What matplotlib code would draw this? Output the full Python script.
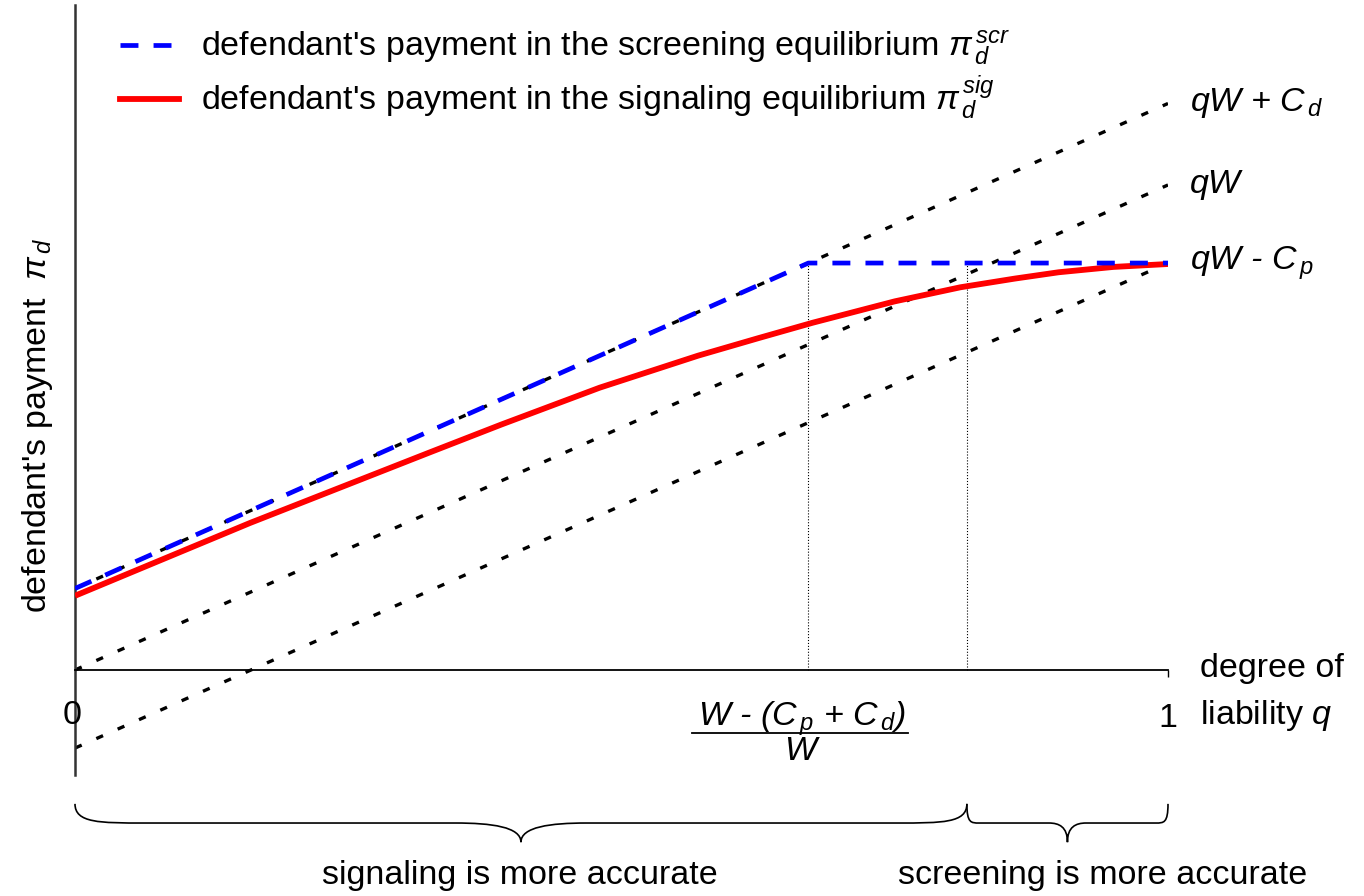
import matplotlib
matplotlib.use("Agg")
import matplotlib.pyplot as plt
from matplotlib.lines import Line2D
from matplotlib.path import Path
from matplotlib.patches import PathPatch

plt.rcParams["font.family"] = ["Liberation Sans", "DejaVu Sans"]
plt.rcParams["mathtext.fontset"] = "custom"
plt.rcParams["mathtext.rm"] = "Liberation Sans"
plt.rcParams["mathtext.it"] = "Liberation Sans:italic"
plt.rcParams["mathtext.bf"] = "Liberation Sans:bold"

# degree of liability q, payments in units of W
bound_q = [0.0, 1.0]
upper_bound = [0.168, 1.168]    # qW + C_d
mid_bound = [0.0, 1.0]          # qW
lower_bound = [-0.161, 0.839]   # qW - C_p
bound_labels = ["qW + C$_{\\,d}$", "qW", "qW - C$_{\\,p}$"]

# screening equilibrium payment
scr_q = [0.0, 0.671, 1.0]
scr_pay = [0.168, 0.839, 0.839]

# signaling equilibrium payment
sig_q = [0.0, 0.16, 0.325, 0.39, 0.48, 0.57, 0.625, 0.675, 0.75, 0.81, 0.86, 0.90, 0.95, 1.0]
sig_pay = [0.153, 0.303, 0.449, 0.506, 0.582, 0.648, 0.684, 0.716, 0.760, 0.789, 0.807, 0.820, 0.831, 0.837]

cutoffs = [0.671, 0.816]
cutoff_top = 0.839
region_labels = ["signaling is more accurate", "screening is more accurate"]

FS = 24.5


def brace(ax, x0, x1, y_top, depth, r_end, r_mid):
    xc = (x0 + x1) / 2
    y_mid = y_top - depth / 2
    y_tip = y_top - depth
    verts = [
        (x0, y_top),
        (x0, y_mid), (x0 + 0.35 * r_end, y_mid), (x0 + r_end, y_mid),
        (xc - r_mid, y_mid),
        (xc - 0.45 * r_mid, y_mid), (xc, y_mid - 0.1 * depth), (xc, y_tip),
        (xc, y_mid - 0.1 * depth), (xc + 0.45 * r_mid, y_mid), (xc + r_mid, y_mid),
        (x1 - r_end, y_mid),
        (x1 - 0.35 * r_end, y_mid), (x1, y_mid), (x1, y_top),
    ]
    codes = [Path.MOVETO,
             Path.CURVE4, Path.CURVE4, Path.CURVE4,
             Path.LINETO,
             Path.CURVE4, Path.CURVE4, Path.CURVE4,
             Path.CURVE4, Path.CURVE4, Path.CURVE4,
             Path.LINETO,
             Path.CURVE4, Path.CURVE4, Path.CURVE4]
    ax.add_patch(PathPatch(Path(verts, codes), facecolor="none", edgecolor="black",
                           lw=1.2, clip_on=False))


fig = plt.figure(figsize=(13.64, 8.96), dpi=100)
ax = fig.add_axes([75 / 1364, 121 / 896, 1093 / 1364, 770 / 896])
ax.set_xlim(0, 1)
ax.set_ylim(-0.2165, 1.371)

for ys in (upper_bound, mid_bound, lower_bound):
    ax.plot(bound_q, ys, color="black", lw=2.4, dashes=(2.2, 4.8), zorder=2)

for xc in cutoffs:
    ax.plot([xc, xc], [0, cutoff_top], color="black", lw=0.8, ls=":", zorder=1)

ax.plot(sig_q, sig_pay, color="#ff0000", lw=4.2, zorder=3, solid_capstyle="butt",
        solid_joinstyle="round")
ax.plot(scr_q, scr_pay, color="#0000ff", lw=3.4, dashes=(3.8, 3.2), zorder=4)

for ys, lab in zip((upper_bound, mid_bound, lower_bound), bound_labels):
    ax.text(1.020, ys[-1], lab, fontsize=FS, style="italic", ha="left", va="center")

handles = [
    Line2D([], [], color="#0000ff", lw=3.4, dashes=(3.8, 3.2)),
    Line2D([], [], color="#ff0000", lw=4.2),
]
labels = [
    "defendant's payment in the screening equilibrium $\\pi_{\\,d}^{\\,scr}$",
    "defendant's payment in the signaling equilibrium $\\pi_{\\,d}^{\\,sig}$",
]
ax.legend(handles, labels, loc="upper left", bbox_to_anchor=(0.041, 0.969),
          frameon=False, fontsize=FS, handlelength=1.75, handletextpad=0.65,
          labelspacing=0.17, borderaxespad=0, borderpad=0)

# axes
for side in ("top", "right"):
    ax.spines[side].set_visible(False)
ax.spines["left"].set_color("#333333")
ax.spines["left"].set_linewidth(1.8)
ax.spines["bottom"].set_position(("data", 0))
ax.spines["bottom"].set_linewidth(1.3)
ax.set_yticks([])
ax.set_xticks([1])
ax.set_xticklabels([""])
ax.tick_params(axis="x", length=5, width=1, direction="out")

ax.text(-0.003, -0.093, "0", fontsize=FS, ha="center", va="center")
ax.text(1.0, -0.100, "1", fontsize=FS, ha="center", va="center")
ax.text(1.029, 0.004, "degree of", fontsize=FS, ha="left", va="center")
ax.text(1.029, -0.093, "liability $q$", fontsize=FS, ha="left", va="center")
ax.text(-0.034, 0.505, "defendant's payment  $\\pi_{\\,d}$", fontsize=FS,
        rotation=90, ha="center", va="center")

# cutoff label as a fraction
ax.text(0.665, -0.100, "W - (C$_{\\,p}$ + C$_{\\,d}$)", fontsize=FS, style="italic",
        ha="center", va="center")
ax.plot([0.5645, 0.762], [-0.130, -0.130], color="black", lw=1.3, clip_on=False)
ax.text(0.663, -0.168, "W", fontsize=FS, style="italic", ha="center", va="center")

# braces marking which equilibrium is more accurate
brace(ax, 0.0, cutoffs[1], -0.276, 0.079, 0.064, 0.06)
brace(ax, cutoffs[1], 1.0, -0.276, 0.079, 0.011, 0.017)
ax.text(0.407, -0.423, region_labels[0], fontsize=FS, ha="center", va="center")
ax.text(0.940, -0.423, region_labels[1], fontsize=FS, ha="center", va="center")

fig.savefig("out.png", dpi=100)
